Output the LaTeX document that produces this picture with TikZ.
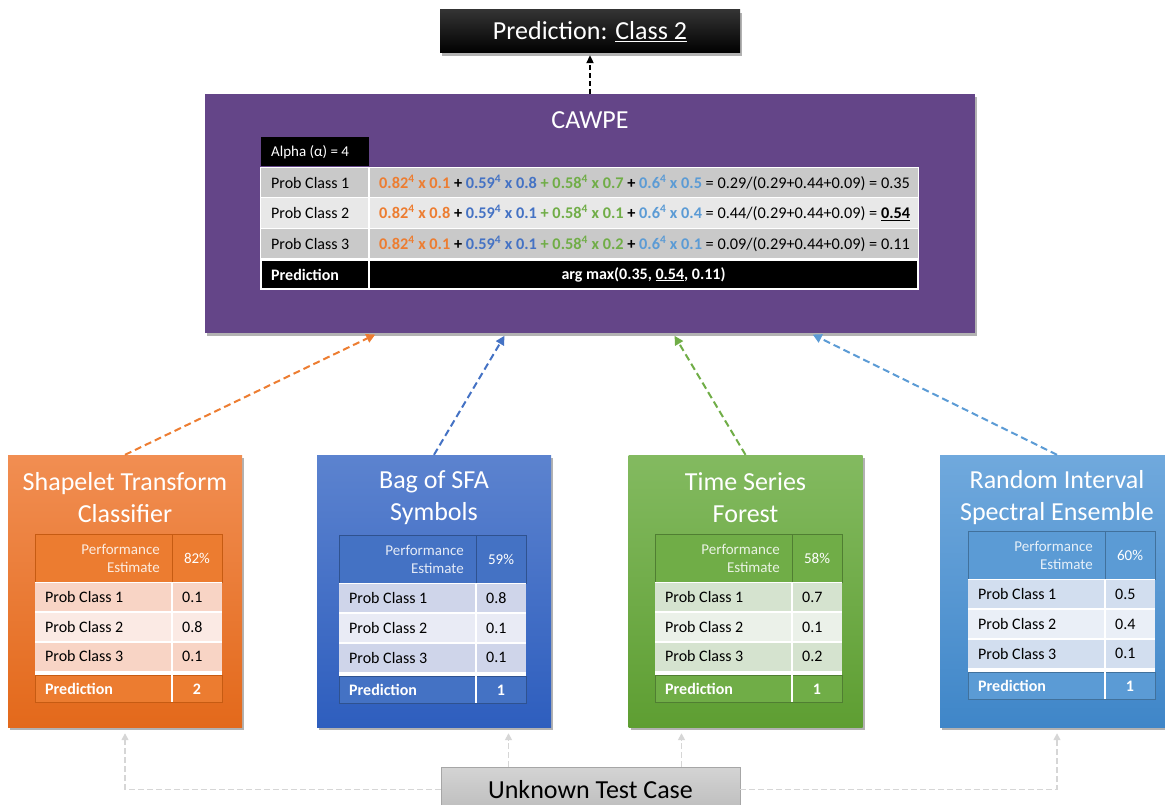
\documentclass[tikz,border=0pt]{standalone}
\usepackage{fontspec}
\setmainfont{Carlito}
\usetikzlibrary{arrows.meta,shadows}

% panel palettes
\definecolor{orgTop}{HTML}{F18E52}\definecolor{orgBot}{HTML}{E3691B}
\definecolor{orgHead}{HTML}{EC7C30}\definecolor{orgLine}{HTML}{C65B12}
\definecolor{orgA}{HTML}{F8D4C5}\definecolor{orgB}{HTML}{FBEAE4}
\definecolor{bluTop}{HTML}{5C83CF}\definecolor{bluBot}{HTML}{2E5EBE}
\definecolor{bluHead}{HTML}{4472C4}\definecolor{bluLine}{HTML}{2F528F}
\definecolor{bluA}{HTML}{CFD5EA}\definecolor{bluB}{HTML}{E9EBF5}
\definecolor{grnTop}{HTML}{83BA60}\definecolor{grnBot}{HTML}{5E9E32}
\definecolor{grnHead}{HTML}{70AD47}\definecolor{grnLine}{HTML}{507E32}
\definecolor{grnA}{HTML}{D5E3CF}\definecolor{grnB}{HTML}{EBF1E9}
\definecolor{lblTop}{HTML}{70A9DD}\definecolor{lblBot}{HTML}{3F86C8}
\definecolor{lblHead}{HTML}{5B9BD5}\definecolor{lblLine}{HTML}{41719C}
\definecolor{lblA}{HTML}{D2DEEF}\definecolor{lblB}{HTML}{EAEFF7}
% ensemble palette
\definecolor{cawpe}{HTML}{644588}
\definecolor{cO}{HTML}{ED7D31}\definecolor{cB}{HTML}{4472C4}
\definecolor{cG}{HTML}{70AD47}\definecolor{cL}{HTML}{5B9BD5}
\definecolor{rowDark}{HTML}{C9C9C9}\definecolor{rowLight}{HTML}{E8E8E8}
\definecolor{link}{HTML}{D6D6D6}

\newcommand\wterm[3]{\textcolor{#1}{\textbf{#2\textsuperscript{4} x #3}}}

\begin{document}
\begin{tikzpicture}[x=1pt,y=-1pt,
  shadowed/.style={drop shadow={shadow xshift=2pt,shadow yshift=-3pt,opacity=0.3,fill=black}},
  panel/.style={shadowed,minimum width=234pt,minimum height=272pt,inner sep=0pt},
  ptitle/.style={text=white,align=center,inner sep=0pt,font=\fontsize{26}{32}\selectfont},
  hdr/.style={text=white,text opacity=0.85,align=right,inner sep=0pt,font=\fontsize{15}{18}\selectfont},
  cell/.style={inner sep=0pt,font=\fontsize{16}{19}\selectfont},
  cellb/.style={cell,text=white,font=\fontsize{16}{19}\selectfont\bfseries},
  eqn/.style={cell,anchor=west,font=\fontsize{16.3}{19}\selectfont},
  vote/.style={dashed,dash pattern=on 7pt off 4pt,line width=2pt,-{Triangle[length=9pt,width=9pt]},shorten >=3pt},
  feed/.style={draw=link,dash pattern=on 6pt off 3pt,line width=1.5pt,-{Triangle[length=7pt,width=7pt]},shorten >=6pt}]
\useasboundingbox (0,0) rectangle (1165,805);
\clip (0,0) rectangle (1165,805);

% ---- final prediction ----
\node[shadowed,top color=black!80,bottom color=black,minimum width=300pt,minimum height=43pt,
      text=white,font=\fontsize{26}{30}\selectfont] (pred) at (590,31.5) {Prediction: \underline{Class 2}};

% ---- ensemble box ----
\node[shadowed,fill=cawpe,minimum width=770pt,minimum height=239pt] (cawpe) at (590,213.5) {};
\node[text=white,inner sep=0pt,font=\fontsize{26}{30}\selectfont] (cawpe-t) at (590,120) {CAWPE};

% alpha label
\fill[black] (261,137) rectangle (369,166);
\node[cell,text=white,anchor=west,font=\fontsize{15}{18}\selectfont] (alpha) at (271,152) {Alpha (α) = 4};
% class rows
\fill[white] (260,167) rectangle (919,259);
\fill[rowDark] (261,168) rectangle (918,197.5);
\fill[rowLight] (261,198.5) rectangle (918,228);
\fill[rowDark] (261,229) rectangle (918,258);
\draw[white,line width=1.5pt] (369,167) -- (369,259);
% prediction row
\draw[fill=black,draw=white,line width=1.2pt] (261,260) rectangle (918,289);
\draw[white,line width=1.2pt] (369,260) -- (369,289);

\node[cell,anchor=west] (c1) at (271,183) {Prob Class 1};
\node[cell,anchor=west] (c2) at (271,213) {Prob Class 2};
\node[cell,anchor=west] (c3) at (271,244) {Prob Class 3};
\node[cellb,anchor=west] (cp) at (271,274.5) {Prediction};

\node[eqn] (e1) at (379,183)
  {\wterm{cO}{0.82}{0.1} \textbf{+} \wterm{cB}{0.59}{0.8} \textcolor{cG}{\textbf{+ 0.58\textsuperscript{4} x 0.7}} \textbf{+} \wterm{cL}{0.6}{0.5} = 0.29/(0.29+0.44+0.09) = 0.35};
\node[eqn] (e2) at (379,213)
  {\wterm{cO}{0.82}{0.8} \textbf{+} \wterm{cB}{0.59}{0.1} \textcolor{cG}{\textbf{+ 0.58\textsuperscript{4} x 0.1}} \textbf{+} \wterm{cL}{0.6}{0.4} = 0.44/(0.29+0.44+0.09) = \textbf{\underline{0.54}}};
\node[eqn] (e3) at (379,244)
  {\wterm{cO}{0.82}{0.1} \textbf{+} \wterm{cB}{0.59}{0.1} \textcolor{cG}{\textbf{+ 0.58\textsuperscript{4} x 0.2}} \textbf{+} \wterm{cL}{0.6}{0.1} = 0.09/(0.29+0.44+0.09) = 0.11};
\node[cellb] (ep) at (643.5,274.5) {arg max(0.35, \underline{0.54}, 0.11)};

\draw[dashed,dash pattern=on 5pt off 3pt,line width=2pt,-{Triangle[length=8pt,width=7pt]},shorten >=2pt] (cawpe.north) -- (pred.south);

% ---- member classifiers ----
\foreach \nm/\cx/\cl/\ttl/\tx/\ty/\pe/\va/\vb/\vc/\pr in {
  stc/125/org/{Shapelet Transform\\Classifier}/35/534/82\%/0.1/0.8/0.1/2,
  bop/434/blu/{Bag of SFA\\Symbols}/339/535/59\%/0.8/0.1/0.1/1,
  tsf/745.5/grn/{Time Series\\Forest}/655/534/58\%/0.7/0.1/0.2/1,
  rise/1057/lbl/{Random Interval\\Spectral Ensemble}/968/531/60\%/0.5/0.4/0.1/1}{
  \node[panel,top color=\cl Top,bottom color=\cl Bot] (\nm) at (\cx,591) {};
  \node[ptitle] (\nm-t) at (\cx,498) {\ttl};
  % header
  \draw[fill=\cl Head,draw=\cl Line,line width=1pt] (\tx,\ty) rectangle (\tx+187,\ty+48);
  \draw[\cl Line,line width=1pt] (\tx+137,\ty) -- (\tx+137,\ty+48);
  % probability rows
  \fill[white] (\tx,\ty+48) rectangle (\tx+187,\ty+141);
  \fill[\cl A] (\tx,\ty+49) rectangle (\tx+187,\ty+78);
  \fill[\cl B] (\tx,\ty+78) rectangle (\tx+187,\ty+108);
  \fill[\cl A] (\tx,\ty+108) rectangle (\tx+187,\ty+137);
  \draw[white,line width=2pt] (\tx,\ty+78) -- (\tx+187,\ty+78) (\tx,\ty+108) -- (\tx+187,\ty+108)
        (\tx+137,\ty+48) -- (\tx+137,\ty+137);
  % prediction row
  \draw[fill=\cl Head,draw=\cl Line,line width=1pt] (\tx,\ty+141) rectangle (\tx+187,\ty+168);
  \draw[white,line width=1.5pt] (\tx+137,\ty+141) -- (\tx+137,\ty+168);
  % cell texts
  \node[hdr,anchor=east] (\nm-pe) at (\tx+125,\ty+24) {Performance\\Estimate};
  \node[cell,text=white,font=\fontsize{15}{18}\selectfont] (\nm-pv) at (\tx+162,\ty+24) {\pe};
  \node[cell,anchor=west] (\nm-r1) at (\tx+10,\ty+63.5) {Prob Class 1};
  \node[cell,anchor=west] (\nm-r2) at (\tx+10,\ty+93) {Prob Class 2};
  \node[cell,anchor=west] (\nm-r3) at (\tx+10,\ty+122.5) {Prob Class 3};
  \node[cell,anchor=west] (\nm-v1) at (\tx+147,\ty+63.5) {\va};
  \node[cell,anchor=west] (\nm-v2) at (\tx+147,\ty+93) {\vb};
  \node[cell,anchor=west] (\nm-v3) at (\tx+147,\ty+122.5) {\vc};
  \node[cellb,anchor=west] (\nm-pl) at (\tx+10,\ty+155) {Prediction};
  \node[cellb] (\nm-pp) at (\tx+162,\ty+155) {\pr};
}

% ---- votes into the ensemble ----
\draw[vote,cO] (stc.north) -- ([xshift=-212pt]cawpe.south);
\draw[vote,cB] (bop.north) -- ([xshift=-84pt]cawpe.south);
\draw[vote,cG] (tsf.north) -- ([xshift=83pt]cawpe.south);
\draw[vote,cL] (rise.north) -- ([xshift=220pt]cawpe.south);

% ---- test case fed to every member ----
\node[top color=black!17,bottom color=black!26,draw=black!35,line width=0.6pt,
      minimum width=299pt,minimum height=44pt,anchor=north,
      font=\fontsize{26}{30}\selectfont] (unk) at (590.5,767) {Unknown Test Case};
\draw[feed] (unk.west) -| (stc.south);
\draw[feed] (unk.east) -| (rise.south);
\draw[feed] ([xshift=-82pt]unk.north) -- ([xshift=-82pt]unk.north |- bop.south);
\draw[feed] ([xshift=91pt]unk.north) -- ([xshift=91pt]unk.north |- tsf.south);
\end{tikzpicture}
\end{document}
